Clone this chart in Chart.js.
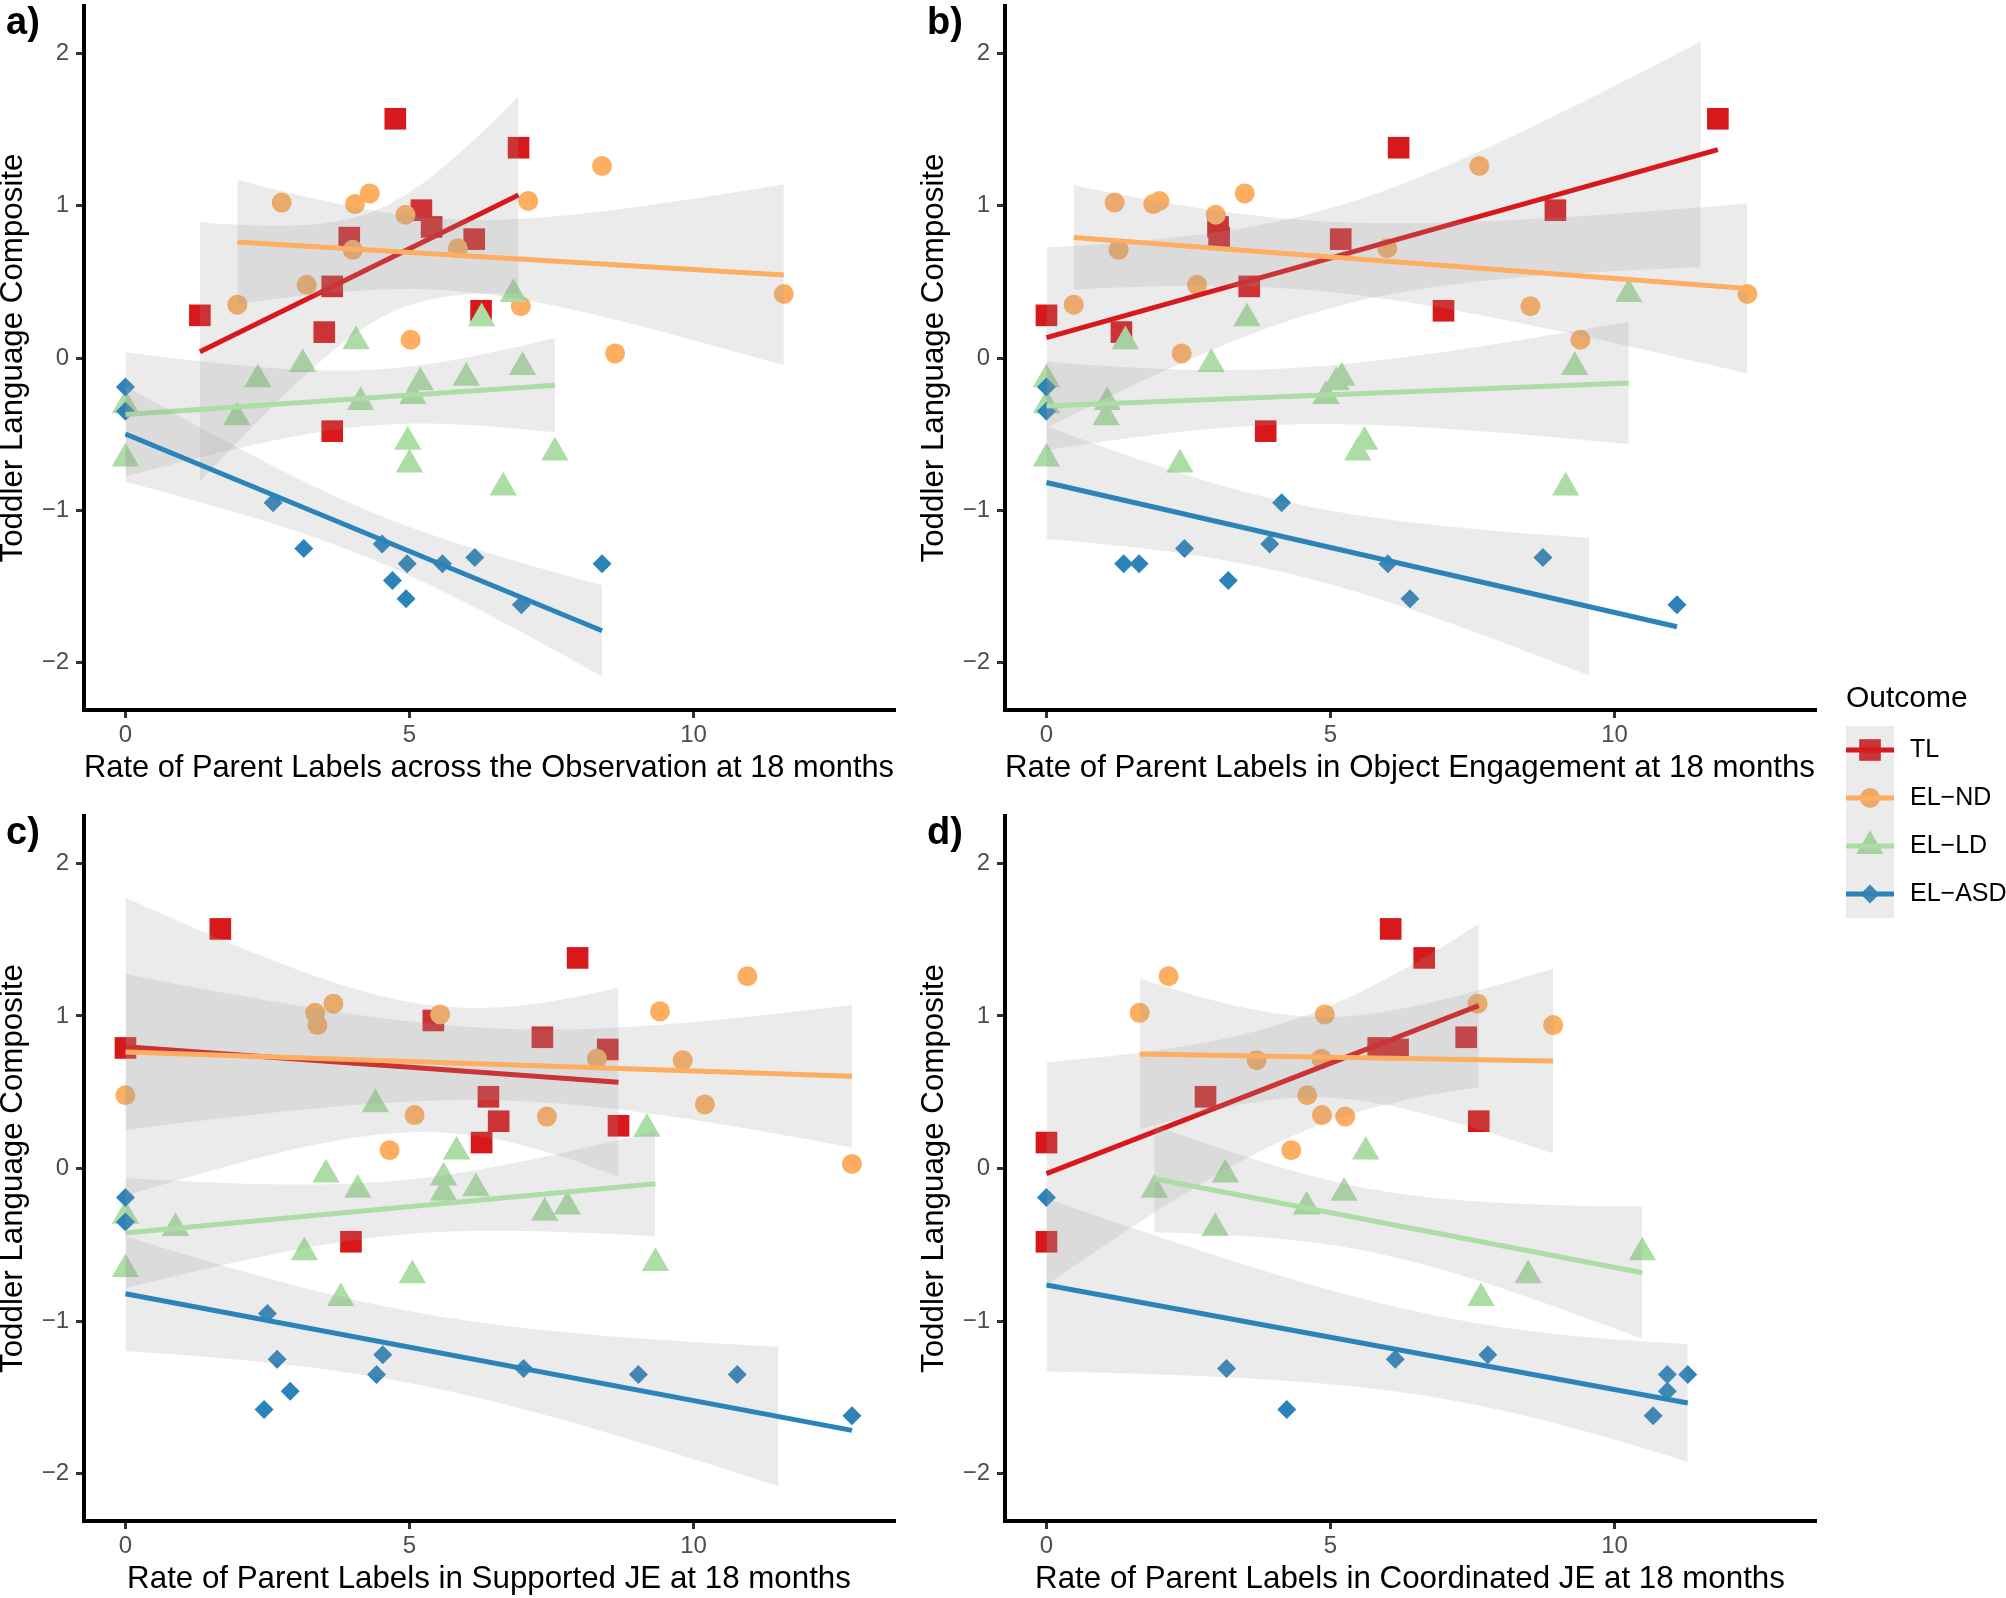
<!DOCTYPE html>
<html>
<head>
<meta charset="utf-8">
<script src="https://cdn.jsdelivr.net/npm/chart.js@4.4.1/dist/chart.umd.min.js"></script>
<style>
  html, body { margin: 0; padding: 0; background: #ffffff; }
  body { width: 2006px; height: 1598px; position: relative; overflow: hidden; }
  canvas { position: absolute; }
</style>
</head>
<body>
<script>
// ---------- data ----------
const groupNames = ['TL', 'EL\u2212ND', 'EL\u2212LD', 'EL\u2212ASD'];
const panelTags = ['a)', 'b)', 'c)', 'd)'];
const xTitles = [
  'Rate of Parent Labels across the Observation at 18 months',
  'Rate of Parent Labels in Object Engagement at 18 months',
  'Rate of Parent Labels in Supported JE at 18 months',
  'Rate of Parent Labels in Coordinated JE at 18 months'
];
const yTitle = 'Toddler Language Composite';
const legendTitle = 'Outcome';
const xRange = [-0.73, 13.53];
const yLimits = [-2.1, 2.1];          // scale limits; bands outside are dropped
const xTickStep = 5;
const yTickStep = 1;

// TL (toddler language) - shared outcome, x per panel a..d (null = missing)
const tlY = [0.28, 1.57, 1.38, 0.97, 0.86, 0.79, 0.78, 0.47, 0.17, 0.31, -0.48];
const tlA = [1.31, 4.75, 6.92, 5.21, 5.39, 3.94, 6.14, 3.64, 3.50, 6.26, 3.64];
const tlB = [0, 11.82, 6.20, 8.96, 3.02, 3.04, 5.18, 3.57, 1.32, 6.99, 3.86];
const tlC = [8.68, 1.67, 7.96, 5.42, 7.34, 0, 8.49, 6.39, 6.27, 6.57, 3.97];
const tlD = [null, 6.06, 6.65, null, 7.39, 5.84, 6.19, 2.80, 0, 7.61, 0];

// EL-ND
const ndY = [1.02, 1.01, 1.08, 1.26, 0.94, 1.03, 0.71, 0.72, 0.48, 0.35, 0.34, 0.12, 0.03, 0.42];
const ndA = [2.75, 4.04, 4.30, 8.39, 4.93, 7.09, 4.00, 5.85, 3.19, 1.97, 6.96, 5.02, 8.62, 11.59];
const ndB = [1.20, 1.88, 3.49, 7.62, 2.98, 1.99, 1.27, 6.00, 2.65, 0.48, 8.52, 9.40, 2.38, 12.34];
const ndC = [3.34, 5.54, 3.66, 10.95, 3.38, 9.41, 9.81, 8.30, 0, 5.09, 7.42, 4.65, 12.79, 10.20];
const ndD = [1.64, 4.90, 7.59, 2.15, 8.92, null, 3.70, 4.84, 4.59, 4.85, 5.26, 4.31, null, null];

// EL-LD
const ldY = [0.42, 0.26, 0.11, -0.04, -0.14, -0.16, -0.13, -0.06, -0.25, -0.29, -0.39, -0.31, -0.66, -0.55, -0.70, -0.62, -0.85];
const ldA = [6.83, 6.27, 4.06, 3.12, 2.33, 5.19, 6.00, 6.99, 5.06, 4.14, 1.96, 0, 0, 4.97, 5.00, 7.56, 6.65];
const ldB = [10.25, 3.53, 1.39, 2.90, 0, 5.10, 5.20, 9.30, 4.92, 1.07, 1.05, 0, 0, 5.60, 2.35, 5.48, 9.14];
const ldC = [4.40, 9.18, 5.83, 3.53, 4.09, 5.60, 6.17, 5.60, 7.78, 7.38, 0.88, 0, 0, 3.15, 5.05, 9.33, 3.79];
const ldD = [null, null, 5.62, 3.15, 1.90, 5.24, null, null, 4.58, null, 2.97, null, null, 10.49, 8.48, null, 7.65];

// EL-ASD
const asdY = [-0.19, -0.35, -0.95, -1.25, -1.22, -1.35, -1.46, -1.58, -1.35, -1.31, -1.62, -1.35];
const asdA = [0, 0, 2.60, 3.14, 4.52, 4.96, 4.70, 4.94, 5.58, 6.15, 6.97, 8.39];
const asdB = [0, 0, 4.14, 2.43, 3.93, 1.36, 3.20, 6.40, 1.63, 8.74, 11.10, 6.01];
const asdC = [0, 0, 2.50, 2.67, 4.53, 4.42, 2.90, 2.44, 10.77, 7.01, 12.79, 9.03];
const asdD = [0, null, null, 6.14, 7.77, 10.93, 10.93, 4.23, null, 3.17, 10.68, 11.29];

// two-sided 95% t quantiles by degrees of freedom (for the lm confidence band)
const t975 = {5: 2.571, 6: 2.447, 7: 2.365, 8: 2.306, 9: 2.262, 10: 2.228, 11: 2.201,
  12: 2.179, 13: 2.160, 14: 2.145, 15: 2.131, 16: 2.120, 17: 2.110, 18: 2.101};

// ---------- styles ----------
const FONT = "'Liberation Sans', Arial, Helvetica, sans-serif";
Chart.defaults.font.family = FONT;

const groups = [
  { name: groupNames[0], color: '#D7191C', shape: 'rect', radius: 15.3, y: tlY, xs: [tlA, tlB, tlC, tlD] },
  { name: groupNames[1], color: '#FDAE61', shape: 'circle', radius: 10, y: ndY, xs: [ndA, ndB, ndC, ndD] },
  { name: groupNames[2], color: '#ABDDA4', shape: 'triangle', radius: 15.8, y: ldY, xs: [ldA, ldB, ldC, ldD] },
  { name: groupNames[3], color: '#2B83BA', shape: 'rectRot', radius: 9.5, y: asdY, xs: [asdA, asdB, asdC, asdD] }
];
const bandFill = 'rgba(153,153,153,0.2)';
const lineWidth = 5;

// y axis = limits expanded by 5% each side (ggplot default)
const ySpan = yLimits[1] - yLimits[0];
const yRange = [yLimits[0] - 0.05 * ySpan, yLimits[1] + 0.05 * ySpan];

// plot areas on the page (px)
const areas = [
  { left: 84, top: 6, right: 894, bottom: 710 },
  { left: 1005, top: 6, right: 1815, bottom: 710, legend: true },
  { left: 84, top: 816, right: 894, bottom: 1521 },
  { left: 1005, top: 816, right: 1815, bottom: 1521 }
];
const Y_AXIS_W = 86, X_AXIS_H = 90, PAD = 30;

// legend position on the page
const legendBox = { left: 1846, titleBase: 707, keyTop: 726, key: 48, labelGap: 64 };

// ---------- helpers ----------
function pairs(xs, ys) {
  const out = [];
  xs.forEach((x, i) => { if (x !== null) out.push({ x: x, y: ys[i] }); });
  return out;
}

// ordinary least squares line with 95% confidence band (as geom_smooth(method = lm))
function lmFit(xs, ys) {
  const pts = pairs(xs, ys);
  const n = pts.length;
  const mx = pts.reduce((s, p) => s + p.x, 0) / n;
  const my = pts.reduce((s, p) => s + p.y, 0) / n;
  let sxx = 0, sxy = 0;
  pts.forEach(p => { sxx += (p.x - mx) ** 2; sxy += (p.x - mx) * (p.y - my); });
  const b = sxy / sxx;
  const a = my - b * mx;
  let sse = 0;
  pts.forEach(p => { sse += (p.y - a - b * p.x) ** 2; });
  const s = Math.sqrt(sse / (n - 2));
  const t = t975[n - 2];
  const lo = Math.min(...pts.map(p => p.x));
  const hi = Math.max(...pts.map(p => p.x));
  const upper = [], lower = [];
  for (let k = 0; k < 80; k++) {
    const x = lo + (hi - lo) * k / 79;
    const fit = a + b * x;
    const half = t * s * Math.sqrt(1 / n + (x - mx) ** 2 / sxx);
    // values beyond the scale limits are censored, as in ggplot
    if (fit + half > yLimits[1] || fit - half < yLimits[0]) continue;
    upper.push({ x: x, y: fit + half });
    lower.push({ x: x, y: fit - half });
  }
  return { line: [{ x: lo, y: a + b * lo }, { x: hi, y: a + b * hi }], upper, lower };
}

function buildDatasets(pi) {
  const ds = [];
  let seq = 0;
  groups.forEach(g => {
    ds.push({
      type: 'scatter', label: g.name, data: pairs(g.xs[pi], g.y),
      pointStyle: g.shape, pointRadius: g.radius, pointHoverRadius: g.radius,
      backgroundColor: g.color, borderColor: g.color, pointBorderWidth: 0,
      order: 200 - seq++
    });
  });
  groups.forEach(g => {
    const f = lmFit(g.xs[pi], g.y);
    ds.push({ type: 'line', data: f.upper, fill: '+1', backgroundColor: bandFill,
      borderColor: 'rgba(0,0,0,0)', borderWidth: 0, pointRadius: 0, order: 200 - seq++ });
    ds.push({ type: 'line', data: f.lower, fill: false,
      borderColor: 'rgba(0,0,0,0)', borderWidth: 0, pointRadius: 0, order: 200 - seq++ });
    ds.push({ type: 'line', data: f.line, fill: false, borderColor: g.color,
      borderWidth: lineWidth, pointRadius: 0, order: 200 - seq++ });
  });
  return ds;
}

const minus = v => String(v).replace('-', '\u2212');

// panel tag "a)" etc.
const tagPlugin = {
  id: 'panelTag',
  afterDraw(chart, args, opts) {
    const ctx = chart.ctx;
    ctx.save();
    ctx.font = 'bold 38px ' + FONT;
    ctx.fillStyle = '#000';
    ctx.textBaseline = 'alphabetic';
    ctx.textAlign = 'left';
    ctx.fillText(opts.text, chart.chartArea.left - 78, chart.chartArea.top + 28);
    ctx.restore();
  }
};

// ggplot-style legend (point + smooth key)
const legendPlugin = {
  id: 'outcomeLegend',
  afterDraw(chart, args, opts) {
    if (!opts.show) return;
    const ctx = chart.ctx;
    const x0 = legendBox.left - opts.offX;
    const top = legendBox.keyTop - opts.offY;
    const key = legendBox.key;
    ctx.save();
    ctx.fillStyle = '#000';
    ctx.font = '30px ' + FONT;
    ctx.textBaseline = 'alphabetic';
    ctx.fillText(legendTitle, x0, legendBox.titleBase - opts.offY);
    groups.forEach((g, i) => {
      const cy = top + key * i + key / 2;
      ctx.fillStyle = '#ffffff';
      ctx.fillRect(x0, top + key * i, key, key);
      ctx.fillStyle = g.color;
      Chart.helpers.drawPoint(ctx, { pointStyle: g.shape, radius: g.radius, rotation: 0, borderWidth: 0 }, x0 + key / 2, cy);
      ctx.fillStyle = bandFill;
      ctx.fillRect(x0, top + key * i, key, key);
      ctx.strokeStyle = g.color;
      ctx.lineWidth = lineWidth;
      ctx.beginPath();
      ctx.moveTo(x0, cy);
      ctx.lineTo(x0 + key, cy);
      ctx.stroke();
      ctx.fillStyle = '#000';
      ctx.font = '25px ' + FONT;
      ctx.textBaseline = 'middle';
      ctx.fillText(g.name, x0 + legendBox.labelGap, cy);
    });
    ctx.restore();
  }
};

// ---------- charts ----------
areas.forEach((ar, pi) => {
  const cLeft = ar.left - Y_AXIS_W;
  const cTop = ar.top - PAD;
  const padRight = ar.legend ? 2006 - ar.right : PAD;
  const padBottom = ar.legend ? 160 : 0;
  const w = ar.right + padRight - cLeft;
  const h = ar.bottom + X_AXIS_H + padBottom - cTop;

  const cv = document.createElement('canvas');
  cv.width = w;
  cv.height = h;
  cv.style.left = cLeft + 'px';
  cv.style.top = cTop + 'px';
  cv.style.width = w + 'px';
  cv.style.height = h + 'px';
  document.body.appendChild(cv);

  new Chart(cv, {
    type: 'scatter',
    data: { datasets: buildDatasets(pi) },
    plugins: [tagPlugin, legendPlugin],
    options: {
      responsive: false,
      animation: false,
      devicePixelRatio: 1,
      events: [],
      layout: { padding: { left: 0, top: PAD, right: padRight, bottom: padBottom } },
      plugins: {
        legend: { display: false },
        tooltip: { enabled: false },
        panelTag: { text: panelTags[pi] },
        outcomeLegend: { show: !!ar.legend, offX: cLeft, offY: cTop }
      },
      scales: {
        x: {
          type: 'linear',
          min: xRange[0], max: xRange[1],
          afterFit: s => { s.height = X_AXIS_H; s.paddingLeft = 0; s.paddingRight = 0; },
          border: { display: true, color: '#000', width: 4 },
          grid: { drawOnChartArea: false, drawTicks: true, tickLength: 8, color: '#333333', lineWidth: 3 },
          ticks: { stepSize: xTickStep, includeBounds: false, color: '#4D4D4D', padding: 3,
            font: { size: 24 }, callback: minus, maxRotation: 0 },
          title: { display: true, text: xTitles[pi], color: '#000',
            font: { size: 31.3, lineHeight: 1.2 }, padding: { top: 0, bottom: 13 } }
        },
        y: {
          type: 'linear',
          min: yRange[0], max: yRange[1],
          afterFit: s => { s.width = Y_AXIS_W; s.paddingTop = 0; s.paddingBottom = 0; },
          border: { display: true, color: '#000', width: 4 },
          grid: { drawOnChartArea: false, drawTicks: true, tickLength: 8, color: '#333333', lineWidth: 3 },
          ticks: { stepSize: yTickStep, includeBounds: false, color: '#4D4D4D', padding: 7,
            font: { size: 24 }, callback: minus },
          title: { display: true, text: yTitle, color: '#000',
            font: { size: 31.3, lineHeight: 1 }, padding: { top: 0, bottom: 0 } }
        }
      }
    }
  });
});
</script>
</body>
</html>
